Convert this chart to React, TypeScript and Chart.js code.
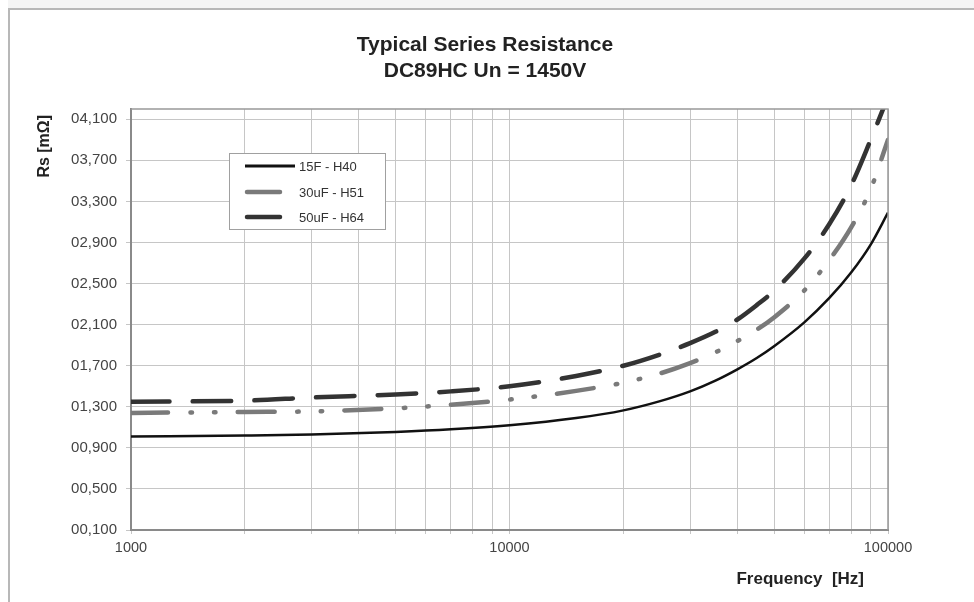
import React, { useEffect, useRef } from "react";
import { Chart, registerables } from "chart.js";

Chart.register(...registerables);

// ---- data ----
const frequencies = [1000, 2000, 3000, 5000, 7000, 10000, 15000, 20000, 25000, 30000, 35000, 40000, 45000, 50000, 60000, 70000, 80000, 90000, 100000];
const rs15F = [1.01, 1.02, 1.03, 1.055, 1.08, 1.12, 1.19, 1.265, 1.355, 1.45, 1.555, 1.665, 1.775, 1.89, 2.12, 2.36, 2.61, 2.88, 3.19];
const rs30uF = [1.24, 1.25, 1.255, 1.285, 1.32, 1.37, 1.455, 1.535, 1.625, 1.725, 1.83, 1.94, 2.05, 2.17, 2.43, 2.73, 3.05, 3.42, 3.9];
const rs50uF = [1.35, 1.36, 1.39, 1.42, 1.45, 1.5, 1.6, 1.7, 1.81, 1.92, 2.03, 2.15, 2.29, 2.43, 2.74, 3.08, 3.46, 3.9, 4.32];
const seriesLabels = ["15F - H40", "30uF - H51", "50uF - H64"];
const yTickValues = [0.1, 0.5, 0.9, 1.3, 1.7, 2.1, 2.5, 2.9, 3.3, 3.7, 4.1];
const xGridValues = [1000, 2000, 3000, 4000, 5000, 6000, 7000, 8000, 9000, 10000, 20000, 30000, 40000, 50000, 60000, 70000, 80000, 90000, 100000];
const xLabelValues = [1000, 10000, 100000];
const titleLines = ["Typical Series Resistance", "DC89HC Un = 1450V"];
const xAxisTitle = "Frequency  [Hz]";
const yAxisTitle = "Rs [mΩ]";

const FONT = "'Liberation Sans', Arial, sans-serif";

const toPoints = (ys: number[]) => frequencies.map((f, i) => ({ x: f, y: ys[i] }));

const formatY = (v: number) => v.toFixed(3).replace(".", ",").padStart(6, "0");

const titlePlugin = {
  id: "customTitle",
  afterDraw(chart: any) {
    const ctx = chart.ctx;
    ctx.save();
    ctx.fillStyle = "#222";
    ctx.font = `bold 21px ${FONT}`;
    ctx.textAlign = "center";
    ctx.textBaseline = "middle";
    ctx.fillText(titleLines[0], 475, 35);
    ctx.fillText(titleLines[1], 475, 61);
    // x-axis title
    ctx.font = `bold 17px ${FONT}`;
    ctx.textAlign = "right";
    ctx.fillText(xAxisTitle, chart.chartArea.right - 24, 569);
    // y-axis title
    ctx.translate(35, 105);
    ctx.rotate(-Math.PI / 2);
    ctx.font = `bold 16px ${FONT}`;
    ctx.textAlign = "right";
    ctx.fillText(yAxisTitle, 0, 0);
    ctx.restore();
  },
};

const framePlugin = {
  id: "frame",
  afterDatasetsDraw(chart: any) {
    const { ctx, chartArea: a } = chart;
    ctx.save();
    ctx.strokeStyle = "#999";
    ctx.lineWidth = 1.5;
    ctx.beginPath();
    ctx.moveTo(a.left, a.top);
    ctx.lineTo(a.right, a.top);
    ctx.lineTo(a.right, a.bottom);
    ctx.stroke();
    ctx.restore();
  },
};

const legendPlugin = {
  id: "boxLegend",
  afterDraw(chart: any) {
    const { ctx, chartArea: a } = chart;
    const bx = a.left + 98;
    const by = a.top + 44;
    const bw = 156;
    const bh = 76;
    ctx.save();
    ctx.fillStyle = "#fff";
    ctx.fillRect(bx, by, bw, bh);
    ctx.strokeStyle = "#a0a0a0";
    ctx.lineWidth = 1;
    ctx.strokeRect(bx + 0.5, by + 0.5, bw, bh);
    const rows = [13, 39, 64];
    chart.data.datasets.forEach((ds: any, i: number) => {
      const y = by + rows[i];
      ctx.beginPath();
      ctx.strokeStyle = ds.borderColor;
      if (i === 0) {
        ctx.lineWidth = 3;
        ctx.lineCap = "butt";
        ctx.moveTo(bx + 16, y);
        ctx.lineTo(bx + 66, y);
      } else {
        ctx.lineWidth = ds.borderWidth;
        ctx.lineCap = "round";
        ctx.moveTo(bx + 18, y);
        ctx.lineTo(bx + 51, y);
      }
      ctx.stroke();
      ctx.fillStyle = "#333";
      ctx.font = `13px ${FONT}`;
      ctx.textAlign = "left";
      ctx.textBaseline = "middle";
      ctx.fillText(ds.label, bx + 70, y + 1);
    });
    ctx.restore();
  },
};

export default function App() {
  const canvasRef = useRef<HTMLCanvasElement | null>(null);

  useEffect(() => {
    if (!canvasRef.current) return;
    const chart = new Chart(canvasRef.current, {
      type: "line",
      data: {
        datasets: [
          {
            label: seriesLabels[0],
            data: toPoints(rs15F),
            borderColor: "#111",
            borderWidth: 2.5,
            pointRadius: 0,
            cubicInterpolationMode: "monotone",
            fill: false,
          },
          {
            label: seriesLabels[1],
            data: toPoints(rs30uF),
            borderColor: "#7a7a7a",
            borderWidth: 4.5,
            borderCapStyle: "round",
            borderDash: [37, 22.5, 1.5, 22, 1.5, 22.2],
            pointRadius: 0,
            cubicInterpolationMode: "monotone",
            fill: false,
          },
          {
            label: seriesLabels[2],
            data: toPoints(rs50uF),
            borderColor: "#333",
            borderWidth: 4.5,
            borderCapStyle: "round",
            borderDash: [38.5, 23.2],
            pointRadius: 0,
            cubicInterpolationMode: "monotone",
            fill: false,
          },
        ],
      },
      options: {
        animation: false,
        responsive: false,
        layout: { padding: { left: 0, right: 86, top: 99, bottom: 0 } },
        plugins: {
          legend: { display: false },
          title: { display: false },
          tooltip: { enabled: false },
        },
        scales: {
          x: {
            type: "logarithmic",
            min: 1000,
            max: 100000,
            afterBuildTicks: (scale: any) => {
              scale.ticks = xGridValues.map((v) => ({ value: v }));
            },
            afterFit: (scale: any) => {
              scale.height = 72;
            },
            ticks: {
              autoSkip: false,
              maxRotation: 0,
              padding: 5,
              color: "#444",
              font: { family: FONT, size: 14.5 },
              callback: (v: any) => (xLabelValues.includes(Number(v)) ? String(v) : ""),
            },
            grid: { color: "#c6c6c6", lineWidth: 1, tickLength: 4 },
            border: { color: "#8a8a8a", width: 2 },
          },
          y: {
            type: "linear",
            min: 0.1,
            max: 4.2,
            afterBuildTicks: (scale: any) => {
              scale.ticks = yTickValues.map((v) => ({ value: v }));
            },
            afterFit: (scale: any) => {
              scale.width = 121;
            },
            ticks: {
              padding: 9,
              color: "#444",
              font: { family: FONT, size: 15 },
              callback: (v: any) => formatY(Number(v)),
            },
            grid: { color: "#c6c6c6", lineWidth: 1, tickLength: 5 },
            border: { color: "#8a8a8a", width: 2 },
          },
        },
      },
      plugins: [framePlugin, legendPlugin, titlePlugin],
    } as any);
    return () => chart.destroy();
  }, []);

  return (
    <>
      <div
        style={{
          position: "absolute",
          left: 8,
          top: 0,
          width: 966,
          height: 8,
          background: "#f5f5f5",
        }}
      />
      <div
        style={{
          position: "absolute",
          left: 8,
          top: 8,
          width: 966,
          height: 594,
          boxSizing: "border-box",
          borderTop: "2px solid #b8b8b8",
          borderLeft: "2px solid #b8b8b8",
          background: "#fff",
        }}
      >
        <canvas ref={canvasRef} width={964} height={592} style={{ display: "block" }} />
      </div>
    </>
  );
}
